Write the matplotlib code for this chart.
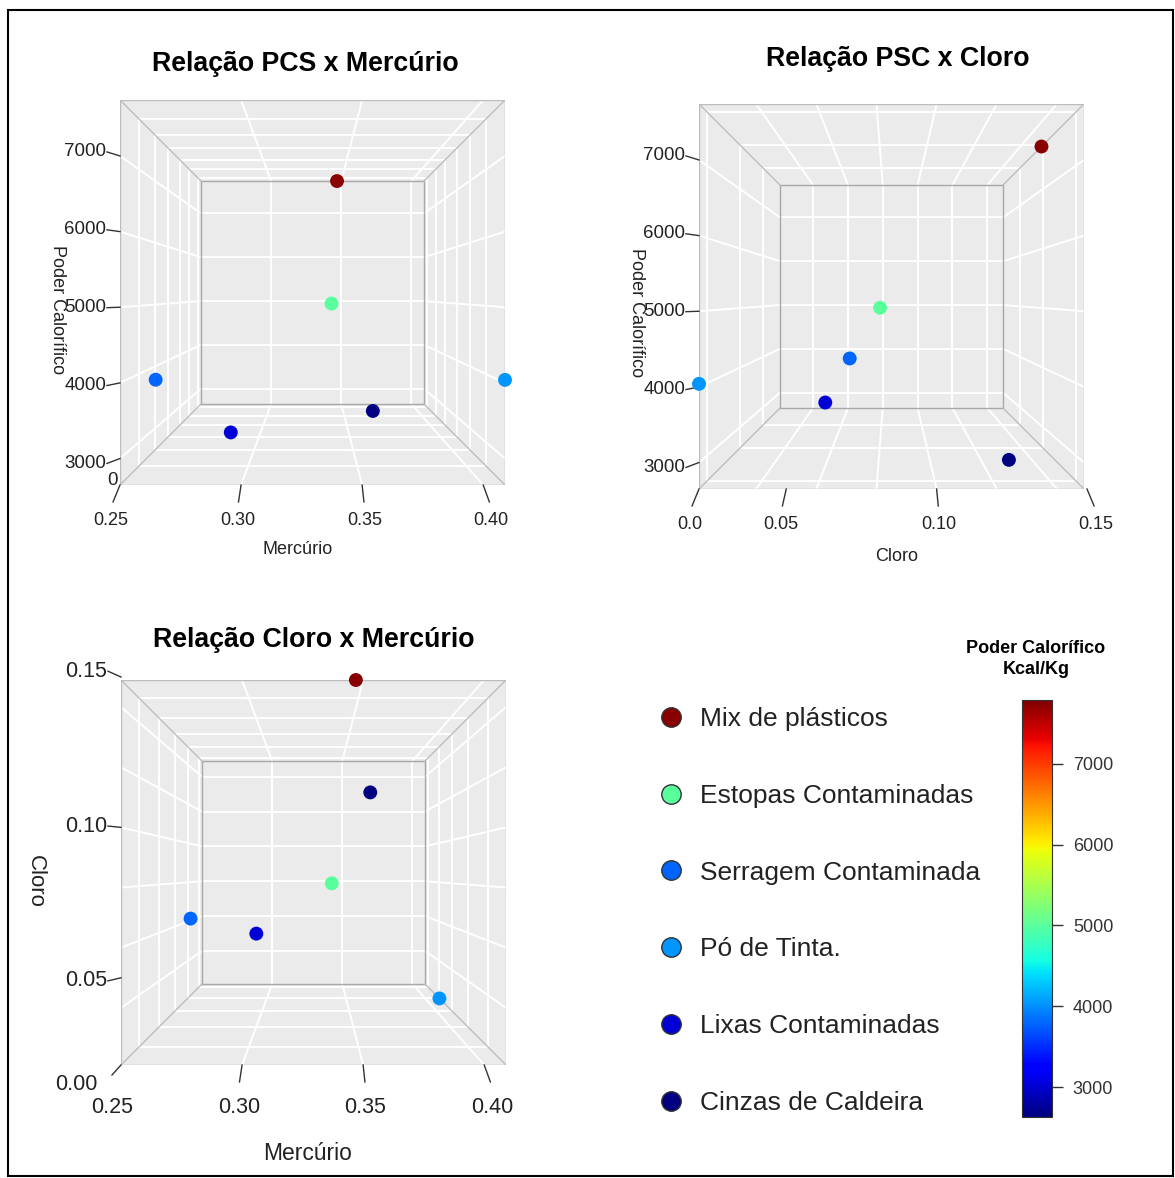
import numpy as np
import matplotlib
matplotlib.use('Agg')
import matplotlib.pyplot as plt
from matplotlib.patches import Rectangle
from matplotlib.lines import Line2D
from matplotlib.colors import Normalize
from matplotlib.cm import ScalarMappable

plt.rcParams['font.family'] = ['Liberation Sans', 'DejaVu Sans']

W, H = 1175, 1178

# data
materiais = ['Mix de plásticos', 'Estopas Contaminadas', 'Serragem Contaminada',
             'Pó de Tinta.', 'Lixas Contaminadas', 'Cinzas de Caldeira']
mercurio = [0.347, 0.340, 0.250, 0.409, 0.290, 0.370]
cloro = [0.149, 0.080, 0.061, 0.021, 0.051, 0.131]
pcs = [7740, 5000, 3780, 4040, 3030, 2650]

hg_ticks = [0.25, 0.30, 0.35, 0.40]
hg_grid = [0.30, 0.35, 0.40]
cl_ticks = [0.05, 0.10, 0.15]
cl_grid = [0.04, 0.06, 0.08, 0.10, 0.12, 0.14]
pcs_ticks = [3000, 4000, 5000, 6000, 7000]
cbar_range = (2630, 7790)

# perspective: viewer distance in half-box units, back face shrinks to S
R = 3.75
S = (R - 1) / (R + 1)
PANE = '#ebebeb'
EDGE = '#bdbdbd'
TXT = '#222222'
TICK = '#333333'
TITLE_FS = 19.3

cmap = plt.get_cmap('jet')
norm = Normalize(*cbar_range)
cores = cmap(norm(pcs))


def unit(vals, lo, hi):
    return 2 * (np.asarray(vals, dtype=float) - lo) / (hi - lo) - 1


def proj(u, v, w):
    f = (R - 1) / (R + np.asarray(w, dtype=float))
    return np.asarray(u) * f, np.asarray(v) * f


fig = plt.figure(figsize=(W / 100, H / 100), dpi=100)


def ftext(x, y, s, **kw):
    kw.setdefault('color', TXT)
    fig.text(x / W, 1 - y / H, s, **kw)


def px_axes(left, top, size=385):
    ax = fig.add_axes([left / W, 1 - (top + size) / H, size / W, size / H])
    ax.set_xlim(-1, 1)
    ax.set_ylim(-1, 1)
    ax.axis('off')
    return ax


def draw_box(ax, ug, vg, wg):
    ax.add_patch(Rectangle((-1, -1), 2, 2, fc=PANE, ec='none', zorder=0))
    kw = dict(color='white', lw=1.4, zorder=1, solid_capstyle='butt')
    for u in ug:
        ax.plot([u * S, u * S], [-S, S], **kw)
        ax.plot([u, u * S], [1, S], **kw)
        ax.plot([u, u * S], [-1, -S], **kw)
    for v in vg:
        ax.plot([-S, S], [v * S, v * S], **kw)
        ax.plot([-1, -S], [v, v * S], **kw)
        ax.plot([1, S], [v, v * S], **kw)
    for w in wg:
        f = (R - 1) / (R + w)
        ax.plot([-f, f, f, -f, -f], [-f, -f, f, f, -f], **kw)
    ek = dict(color=EDGE, lw=1.0, zorder=2)
    ax.plot([-1, 1, 1, -1, -1], [-1, -1, 1, 1, -1], **ek)
    ax.plot([-S, S, S, -S, -S], [-S, -S, S, S, -S], color='#a8a8a8', lw=1.0, zorder=2)
    for sx in (-1, 1):
        for sy in (-1, 1):
            ax.plot([sx, sx * S], [sy, sy * S], **ek)


def ticks_bottom(ax, us, labels, fs, drop=0.129, skip_first=False):
    for i, (u, lab) in enumerate(zip(us, labels)):
        x1, y1 = proj(u, -1.05, -1.096)
        if not (skip_first and i == 0):
            ax.plot([u, x1], [-1, y1], color=TICK, lw=1, clip_on=False)
        xl, yl = proj(u, -1 - drop, -1.1235)
        ax.text(xl, yl, lab, ha='center', va='center', fontsize=fs,
                color=TXT, clip_on=False)


def ticks_left(ax, vs, labels, fs):
    for v, lab in zip(vs, labels):
        x1, y1 = proj(-1.037, v, -1.079)
        ax.plot([-1, x1], [v, y1], color=TICK, lw=1, clip_on=False)
        ax.text(x1 - 0.004, y1, lab, ha='right', va='center', fontsize=fs,
                color=TXT, clip_on=False)


def points(ax, u, v, w):
    x, y = proj(u, v, w)
    order = np.argsort(-np.asarray(w))
    ax.scatter(x[order], y[order], s=100, c=cores[order], edgecolors='none',
               zorder=5, clip_on=False)


hg_lo, hg_hi = min(mercurio), max(mercurio)
cl_lo, cl_hi = min(cloro), max(cloro)
pc_lo, pc_hi = min(pcs), max(pcs)

h = unit(mercurio, hg_lo, hg_hi)
c = unit(cloro, cl_lo, cl_hi)
p = unit(pcs, pc_lo, pc_hi)

hg_lab = ['%.2f' % t for t in hg_ticks]
pcs_lab = [str(t) for t in pcs_ticks]
cl_lab = ['%.2f' % t for t in cl_ticks]

# Panel 1: PCS x Mercurio (depth = cloro, front at min)
ax1 = px_axes(120, 100)
draw_box(ax1, unit(hg_grid, hg_lo, hg_hi), unit(pcs_ticks, pc_lo, pc_hi),
         unit(cl_grid, cl_lo, cl_hi))
points(ax1, h, p, c)
ticks_bottom(ax1, unit(hg_ticks, hg_lo, hg_hi), hg_lab, 13)
ticks_left(ax1, unit(pcs_ticks, pc_lo, pc_hi), pcs_lab, 13.5)
ax1.annotate('0', xy=(-1, -1), xytext=(-2, 5), textcoords='offset pixels',
             ha='right', va='center', fontsize=13.5, color=TXT, annotation_clip=False)

# Panel 2: PCS x Cloro (depth = mercurio, front at max)
ax2 = px_axes(699, 104)
draw_box(ax2, unit(cl_grid, cl_lo, cl_hi), unit(pcs_ticks, pc_lo, pc_hi),
         -unit(hg_grid, hg_lo, hg_hi))
points(ax2, c, p, -h)
ticks_bottom(ax2, np.r_[-1, unit(cl_ticks, cl_lo, cl_hi)], ['0.0'] + cl_lab, 13)
ticks_left(ax2, unit(pcs_ticks, pc_lo, pc_hi), pcs_lab, 13.5)

# Panel 3: Cloro x Mercurio (depth = PCS, front at max)
ax3 = px_axes(121, 680)
draw_box(ax3, unit(hg_grid, hg_lo, hg_hi), unit(cl_grid, cl_lo, cl_hi),
         -unit(pcs_ticks, pc_lo, pc_hi))
points(ax3, h, c, -p)
ticks_bottom(ax3, unit(hg_ticks, hg_lo, hg_hi), hg_lab, 15.5, drop=0.164, skip_first=True)
ticks_left(ax3, unit(cl_ticks, cl_lo, cl_hi), cl_lab, 15.5)
ax3.plot([-1, -1 - 9 / 192.5], [-1, -1 - 10 / 192.5], color=TICK, lw=1, clip_on=False)
ax3.annotate('0.00', xy=(-1, -1), xytext=(-23, -20), textcoords='offset pixels',
             ha='right', va='center', fontsize=15.5, color=TXT, annotation_clip=False)

# titles and axis labels
ftext(305, 71, 'Relação PCS x Mercúrio', ha='center', va='baseline', fontsize=TITLE_FS,
      fontweight='bold', color='black')
ftext(898, 66, 'Relação PSC x Cloro', ha='center', va='baseline', fontsize=TITLE_FS,
      fontweight='bold', color='black')
ftext(314, 647, 'Relação Cloro x Mercúrio', ha='center', va='baseline', fontsize=TITLE_FS,
      fontweight='bold', color='black')
ftext(298, 554, 'Mercúrio', ha='center', va='baseline', fontsize=13)
ftext(57, 310, 'Poder Calorífico', rotation=270, ha='center', va='center', fontsize=13)
ftext(897, 561, 'Cloro', ha='center', va='baseline', fontsize=13)
ftext(636, 313, 'Poder Calorífico', rotation=270, ha='center', va='center', fontsize=13)
ftext(308, 1160, 'Mercúrio', ha='center', va='baseline', fontsize=16.5)
ftext(35, 881, 'Cloro', rotation=270, ha='center', va='center', fontsize=16)

# colour bar
cax = fig.add_axes([1022 / W, 1 - 1117 / H, 30 / W, 417 / H])
cb = fig.colorbar(ScalarMappable(norm=norm, cmap=cmap), cax=cax, ticks=pcs_ticks)
cb.ax.tick_params(length=8, width=1, pad=7, labelsize=13, colors=TICK)
cb.outline.set_linewidth(0.8)
cb.outline.set_edgecolor(TICK)
ftext(1036, 653, 'Poder Calorífico', ha='center', va='baseline', fontsize=13,
      fontweight='bold', color='black')
ftext(1036, 674, 'Kcal/Kg', ha='center', va='baseline', fontsize=13,
      fontweight='bold', color='black')

# legend
handles = [Line2D([], [], ls='', marker='o', markersize=14, markerfacecolor=col,
                  markeredgecolor='#333333', markeredgewidth=1) for col in cores]
fig.legend(handles, materiais, loc='upper left', bbox_to_anchor=(658 / W, 1 - 707 / H),
           frameon=False, fontsize=19, labelspacing=2.0, handlelength=1.0,
           handletextpad=0.6, borderpad=0, borderaxespad=0, labelcolor=TXT)

# outer frame
fig.add_artist(Rectangle((8 / W, 1 - 1176 / H), 1165 / W, 1166 / H,
                         transform=fig.transFigure, fill=False, ec='black', lw=1.5))

fig.savefig('out.png', dpi=100)
